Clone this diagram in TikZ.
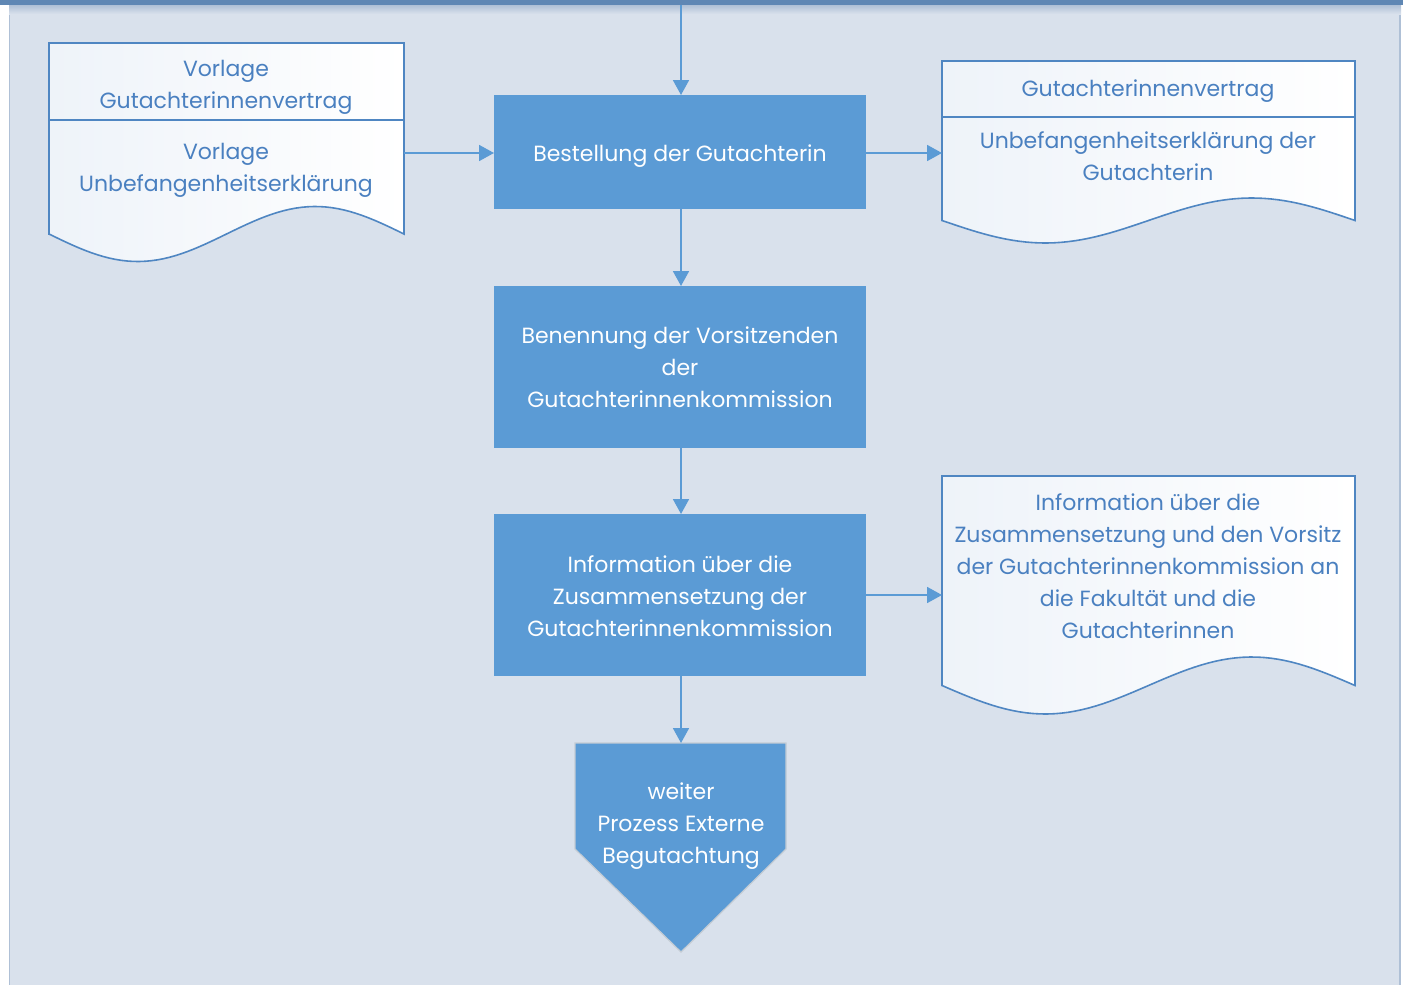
\documentclass[tikz,border=0pt]{standalone}
\usepackage{fontspec}
\setmainfont{Poppins}
\usetikzlibrary{arrows.meta}
\definecolor{pagebg}{HTML}{D9E1EC}
\definecolor{topbar}{HTML}{5F87B4}
\definecolor{pageedge}{HTML}{AFC0D6}
\definecolor{procfill}{HTML}{5B9BD5}
\definecolor{docedge}{HTML}{4F86C2}
\definecolor{doctext}{HTML}{4A80C0}
\definecolor{docshade}{HTML}{EEF3F9}
\definecolor{contedge}{HTML}{C4CCD4}
\begin{document}
\begin{tikzpicture}[x=1pt,y=-1pt,
  proc/.style={fill=procfill,draw=none},
  lbl/.style={font=\fontsize{22}{32}\selectfont,align=center,inner sep=0pt},
  proctext/.style={lbl,text=white},
  doctxt/.style={lbl,text=doctext},
  docline/.style={draw=docedge,line width=1.6pt},
  flow/.style={draw=procfill,line width=1.8pt,-{Triangle[length=15pt,width=16pt]}}]
\useasboundingbox (0,0) rectangle (1403,985);
% page
\fill[white] (0,0) rectangle (1403,985);
\fill[pagebg] (9,0) rectangle (1401,985);
\draw[pageedge,line width=1.5pt] (9.5,0) -- (9.5,985);
\draw[pageedge,line width=1.5pt] (1400,0) -- (1400,985);
\shade[top color=pageedge,bottom color=pagebg] (9,5) rectangle (1401,14);
\fill[topbar] (0,0) rectangle (1403,5);

% process steps
\fill[proc] (494,95) rectangle (866,209);
\fill[proc] (494,286) rectangle (866,448);
\fill[proc] (494,514) rectangle (866,676);
\node[proctext] (bestellung) at (680,156) {Bestellung der Gutachterin};
\node[proctext] (benennung) at (680,367) {Benennung der Vorsitzenden\\der\\Gutachterinnenkommission};
\node[proctext] (info) at (680,596) {Information über die\\Zusammensetzung der\\Gutachterinnenkommission};
\coordinate (b1top) at (681,95);
\coordinate (b1bot) at (681,209);
\coordinate (b1left) at (494,153);
\coordinate (b1right) at (866,153);
\coordinate (b2top) at (681,286);
\coordinate (b2bot) at (681,448);
\coordinate (b3top) at (681,514);
\coordinate (b3bot) at (681,676);
\coordinate (b3right) at (866,595);
\coordinate (entry) at (681,5);

% off-page connector
\filldraw[fill=procfill,draw=contedge,line width=1.2pt]
  (575,743) -- (786,743) -- (786,849) -- (681,952) -- (575,849) -- cycle;
\coordinate (conttop) at (681,743);
\node[proctext] (weiter) at (681,826) {weiter\\Prozess Externe\\Begutachtung};

% input document (left)
\shade[left color=docshade,right color=white,draw=docedge,line width=1.6pt]
  (49,234) -- (49,43) -- (404,43) -- (404,234)
  -- plot[domain=404:49,samples=60] (\x,{234+27.5*sin(360*((\x-49)/355))}) -- cycle;
\draw[docline] (49,120) -- (404,120);
\coordinate (ldocright) at (404,153);
\node[doctxt] (vorlage1) at (226,87) {Vorlage\\Gutachterinnenvertrag};
\node[doctxt] (vorlage2) at (226,170) {Vorlage\\Unbefangenheitserklärung};

% output document (upper right)
\shade[left color=docshade,right color=white,draw=docedge,line width=1.6pt]
  (942,220.5) -- (942,61) -- (1355,61) -- (1355,220.5)
  -- plot[domain=1355:942,samples=60] (\x,{220.5+22.5*sin(360*((\x-942)/413))}) -- cycle;
\draw[docline] (942,117) -- (1355,117);
\coordinate (rdocleft) at (942,153);
\node[doctxt] (vertrag) at (1148,91) {Gutachterinnenvertrag};
\node[doctxt] (erklaerung) at (1148,156) {Unbefangenheitserklärung der\\Gutachterin};

% output document (lower right)
\shade[left color=docshade,right color=white,draw=docedge,line width=1.6pt]
  (942,685.5) -- (942,476) -- (1355,476) -- (1355,685.5)
  -- plot[domain=1355:942,samples=60] (\x,{685.5+28.5*sin(360*((\x-942)/413))}) -- cycle;
\coordinate (rdoc2left) at (942,595);
\node[doctxt] (mitteilung) at (1148,566) {Information über die\\Zusammensetzung und den Vorsitz\\der Gutachterinnenkommission an\\die Fakultät und die\\Gutachterinnen};

% connectors
\draw[flow] (entry) -- (b1top);
\draw[flow] (b1bot) -- (b2top);
\draw[flow] (b2bot) -- (b3top);
\draw[flow] (b3bot) -- (conttop);
\draw[flow] (ldocright) -- (b1left);
\draw[flow] (b1right) -- (rdocleft);
\draw[flow] (b3right) -- (rdoc2left);
\end{tikzpicture}
\end{document}
